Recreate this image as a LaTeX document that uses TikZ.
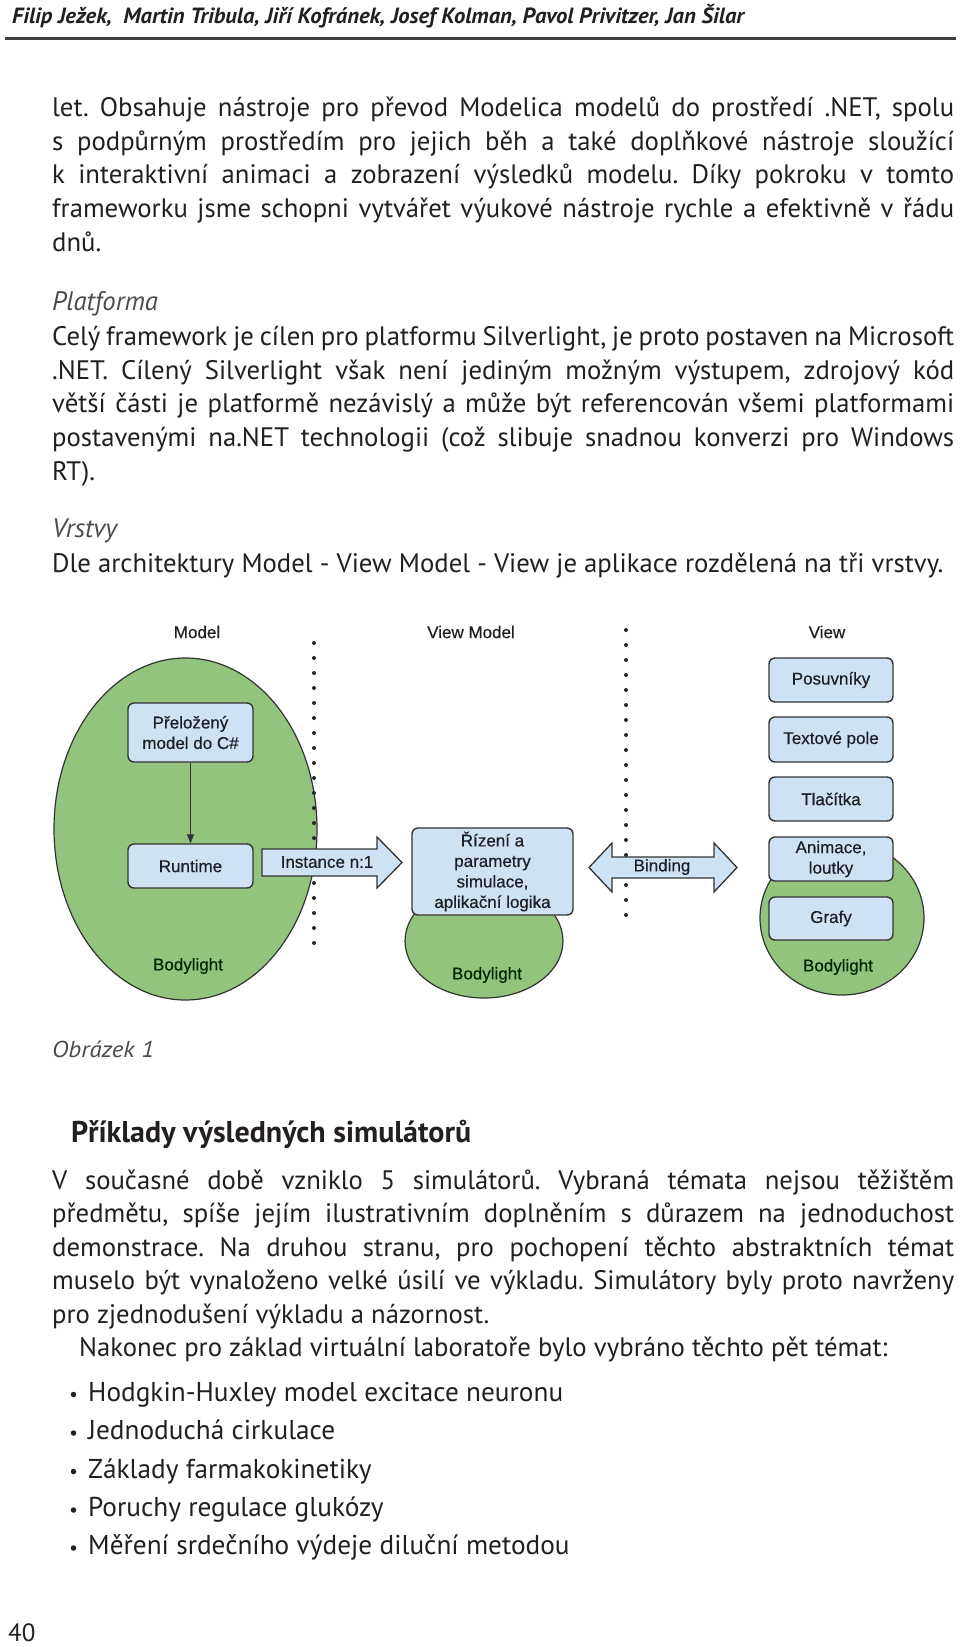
\documentclass[tikz,border=0pt]{standalone}
\usepackage{fontspec}
\usepackage{graphicx}
\setmainfont{PT Sans}
\newfontfamily\bodyf{PT Sans}
\newfontfamily\diagf{Liberation Sans}[FakeBold=0.4]
\usetikzlibrary{arrows.meta,calc,shapes.geometric}
\definecolor{ink}{HTML}{231F20}
\definecolor{greyink}{HTML}{4A4B4F}
\definecolor{gfill}{HTML}{93C47D}
\definecolor{bfill}{HTML}{CFE2F3}
\definecolor{edge}{HTML}{333333}
\definecolor{dtext}{HTML}{1E1E24}
\newlength\calw
\newcommand\bodyat[1]{\bodyf\fontsize{#1pt}{#1pt}\selectfont}
\newcommand\diagat{\diagf\fontsize{17pt}{20.5pt}\selectfont}
\frenchspacing
\AtBeginDocument{%
\settowidth\calw{\bodyat{10}Dle architektury Model - View Model - View je aplikace rozdělená na tři vrstvy.}%
\pgfmathsetmacro\bsz{10*891/\calw}%
\global\let\bsz\bsz
\settowidth\calw{\bodyat{10}\bfseries Příklady výsledných simulátorů}%
\pgfmathsetmacro\hsz{10*400/\calw}%
\global\let\hsz\hsz
\settowidth\calw{\bodyat{10}Hodgkin-Huxley model excitace neuronu}%
\pgfmathsetmacro\usz{10*475/\calw}%
\global\let\usz\usz
\settowidth\calw{\bodyat{22}\bfseries\itshape Filip Ježek,\ \ Martin Tribula, Jiří Kofránek, Josef Kolman, Pavol Privitzer, Jan Šilar}%
\pgfmathsetmacro\hxs{732/\calw}%
\global\let\hxs\hxs
\settowidth\calw{\bodyat{23}\itshape Obrázek 1}%
\pgfmathsetmacro\oxs{102/\calw}%
\global\let\oxs\oxs
}
\tikzset{
  jtext/.style={anchor=base west, inner sep=0pt, text=ink},
  box/.style={rectangle, rounded corners=6pt, draw=edge, line width=1.4pt, fill=bfill,
    text=dtext, font=\diagat, align=center, inner sep=2pt},
  gell/.style={ellipse, draw=edge, line width=1.2pt, fill=gfill, inner sep=0pt},
  lbl/.style={text=dtext, font=\diagat, inner sep=0pt},
  blbl/.style={text=black!85!green, font=\diagat, inner sep=0pt},
  dots/.style={line width=4pt, dash pattern=on 0pt off 15pt, line cap=round, black!85},
  barrow/.style={draw=edge, line width=1.3pt, fill=bfill, line join=miter},
  conn/.style={draw=edge, line width=1.3pt, -{Triangle[length=9pt,width=7pt]}},
  bull/.style={circle, fill=ink, inner sep=0pt, minimum size=5.5pt}
}
\newcommand\jl[2]{\node[jtext] at (52,#1) {\hbox to 902pt{\bodyat{\bsz}\spaceskip=.25em plus 1fil minus 1fil\relax #2}};}
\newcommand\pl[3]{\node[jtext] at (#1,#2) {\bodyat{\bsz}#3};}
\begin{document}
\begin{tikzpicture}[x=1pt,y=-1pt]
\path[use as bounding box, fill=white] (0,0) rectangle (960,1647);
% header
\node[anchor=base west, inner sep=0pt, text=ink] (hdr) at (12,23)
  {\scalebox{\hxs}[1]{\bodyat{22}\bfseries\itshape Filip Ježek,\ \ Martin Tribula, Jiří Kofránek, Josef Kolman, Pavol Privitzer, Jan Šilar}};
\draw[line width=3pt, black!75] (5,38) -- (956,38);
% paragraph 1
\jl{116.5}{let. Obsahuje nástroje pro převod Modelica modelů do prostředí .NET, spolu}
\jl{150}{s podpůrným prostředím pro jejich běh a také doplňkové nástroje sloužící}
\jl{183.5}{k interaktivní animaci a zobrazení výsledků modelu. Díky pokroku v tomto}
\jl{217}{frameworku jsme schopni vytvářet výukové nástroje rychle a efektivně v řádu}
\pl{52}{251.5}{dnů.}
\node[jtext, text=greyink] (plat) at (52,310) {\bodyat{\bsz}\itshape Platforma};
\jl{345.5}{Celý framework je cílen pro platformu Silverlight, je proto postaven na Microsoft}
\jl{379}{.NET. Cílený Silverlight však není jediným možným výstupem, zdrojový kód}
\jl{412.5}{větší části je platformě nezávislý a může být referencován všemi platformami}
\jl{446}{postavenými na.NET technologii (což slibuje snadnou konverzi pro Windows}
\pl{52}{480}{RT).}
\node[jtext, text=greyink] (vrst) at (52,537) {\bodyat{\bsz}\itshape Vrstvy};
\pl{52}{572}{Dle architektury Model - View Model - View je aplikace rozdělená na tři vrstvy.}
% ---------------- diagram
\node[gell, minimum width=263pt, minimum height=342pt] (mell) at (185.5,829) {};
\node[gell, minimum width=158pt, minimum height=114pt] (vmell) at (484,941) {};
\node[gell, minimum width=164pt, minimum height=154pt] (vell) at (842,918) {};
\coordinate (d1t) at (314,643); \coordinate (d1b) at (314,943);
\coordinate (d2t) at (626,630); \coordinate (d2b) at (626,928);
\draw[dots] (d1t) -- (d1b);
\draw[dots] (d2t) -- (d2b);
\node[lbl] (mlab) at (197,632) {Model};
\node[lbl] (vmlab) at (471,632) {View Model};
\node[lbl] (vlab) at (827,632) {View};
\node[blbl] (b1) at (188,966) {Bodylight};
\node[blbl] (b2) at (487,975) {Bodylight};
\node[blbl] (b3) at (838,967) {Bodylight};
\node[box, minimum width=125pt, minimum height=59pt] (pm) at (190.5,732.5) {Přeložený\\model do C\#};
\node[box, minimum width=125pt, minimum height=44pt] (rt) at (190.5,866) {Runtime};
\draw[conn] (pm) -- (rt);
\node[box, minimum width=161pt, minimum height=87pt] (vm) at (492.5,871.5) {Řízení a\\parametry\\simulace,\\aplikační logika};
\node[box, minimum width=124pt, minimum height=44pt] (v1) at (831,680) {Posuvníky};
\node[box, minimum width=124pt, minimum height=45pt] (v2) at (831,739.5) {Textové pole};
\node[box, minimum width=124pt, minimum height=44pt] (v3) at (831,799) {Tlačítka};
\node[box, minimum width=124pt, minimum height=44pt] (v4) at (831,859) {Animace,\\loutky};
\node[box, minimum width=124pt, minimum height=43pt] (v5) at (831,918.5) {Grafy};
% block arrows
\draw[barrow] (262,849) -- (377,849) -- (377,837) -- (402,862.5) -- (377,888) -- (377,876) -- (262,876) -- cycle;
\node[lbl] (inst) at (327,862) {Instance n:1};
\draw[barrow] (589,867.5) -- (612,843) -- (612,857) -- (714,857) -- (714,843) -- (737,867.5)
  -- (714,892) -- (714,878) -- (612,878) -- (612,892) -- cycle;
\node[lbl] (bind) at (662,867) {Binding};
% ---------------- lower text
\node[jtext, text=greyink] (obr) at (52,1057) {\scalebox{\oxs}[1]{\bodyat{23}\itshape Obrázek 1}};
\node[jtext] (hd) at (71,1142) {\bodyat{\hsz}\bfseries Příklady výsledných simulátorů};
\jl{1189}{V současné době vzniklo 5 simulátorů. Vybraná témata nejsou těžištěm}
\jl{1222.5}{předmětu, spíše jejím ilustrativním doplněním s důrazem na jednoduchost}
\jl{1256}{demonstrace. Na druhou stranu, pro pochopení těchto abstraktních témat}
\jl{1289.5}{muselo být vynaloženo velké úsilí ve výkladu. Simulátory byly proto navrženy}
\pl{52}{1323}{pro zjednodušení výkladu a názornost.}
\pl{79}{1356.5}{Nakonec pro základ virtuální laboratoře bylo vybráno těchto pět témat:}
\foreach \yy/\tt in {1401/Hodgkin-Huxley model excitace neuronu, 1439.5/Jednoduchá cirkulace,
  1478/Základy farmakokinetiky, 1516.5/Poruchy regulace glukózy, 1554.5/Měření srdečního výdeje diluční metodou}{
  \node[bull] at (73.5,\yy-6.5) {};
  \node[jtext] at (88,\yy) {\bodyat{\usz}\tt};
}
\node[jtext] (pg) at (8,1641) {\bodyat{25}40};
\end{tikzpicture}
\end{document}
